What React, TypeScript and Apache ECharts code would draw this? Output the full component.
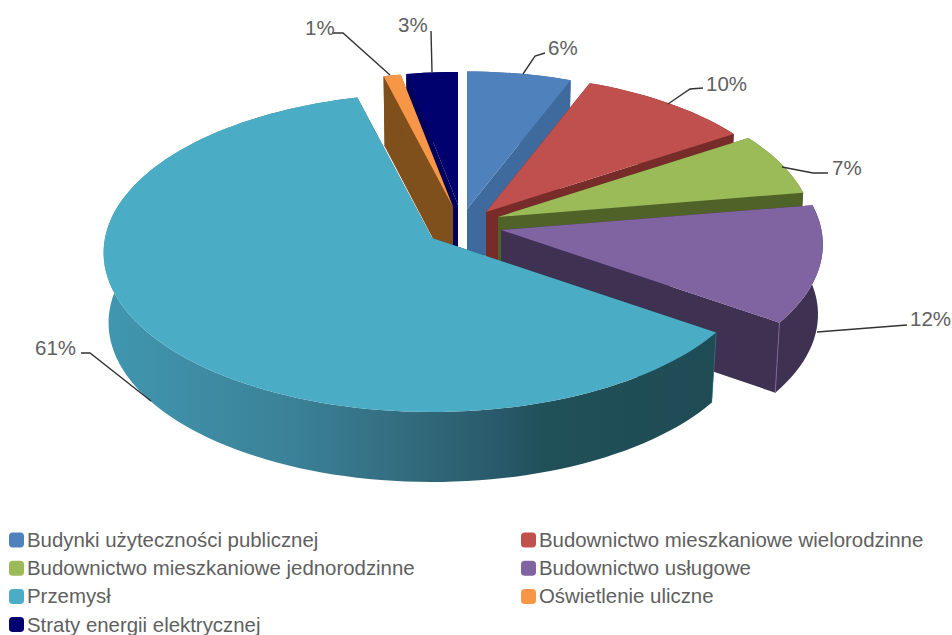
import React, { useEffect, useRef } from "react";
import * as echarts from "echarts";

const categories = [
  "Budynki użyteczności publicznej",
  "Budownictwo mieszkaniowe wielorodzinne",
  "Budownictwo mieszkaniowe jednorodzinne",
  "Budownictwo usługowe",
  "Przemysł",
  "Oświetlenie uliczne",
  "Straty energii elektrycznej",
];
const values = [5.9, 9.9, 6.6, 12.2, 61.4, 1.0, 3.0];
const topColors = ["#4f81bd", "#c0504d", "#9bbb59", "#8064a2", "#4bacc6", "#f79646", "#00006e"];
const wallColors = ["#3e6a9e", "#772c2a", "#4f6228", "#3f3151", "#205058", "#7f4f1c", "#00005c"];

// Layout of the exploded, perspective-projected pie
const RX = 327;
const RY = 158;
const PERSPECTIVE = 0.092;
const DEPTH = 70;
const BOTTOM_SCALE = 0.985;
const apexX = [467, 486, 498, 501, 432, 453, 458];
const apexY = [209, 212, 217, 230, 238, 207, 205];
const scales = [0.95, 0.95, 0.96, 0.98, 1, 0.93, 0.92];
const labelPos = [
  [548, 47],
  [706, 83],
  [832, 167],
  [910, 318],
  [35, 347],
  [305, 27],
  [398, 24],
];
const leaders = [
  [[523, 74], [535, 56], [545, 53]],
  [[668, 104], [690, 89], [703, 88]],
  [[782, 167], [813, 173], [828, 173]],
  [[817, 332], [907, 325]],
  [[151, 401], [90, 353], [81, 353]],
  [[390, 75], [343, 33], [332, 33]],
  [[432, 72], [431, 31]],
];
const drawOrder = [6, 0, 5, 1, 2, 3, 4];
const edgeHighlighted = [3, 4];
const leftLegend = [categories[0], categories[2], categories[4], categories[6]];
const rightLegend = [categories[1], categories[3], categories[5]];

const total = values.reduce((a, b) => a + b, 0);
const startAngles = values.map((_, i) =>
  (values.slice(0, i).reduce((a, b) => a + b, 0) / total) * Math.PI * 2,
);

function project(i: number, theta: number): [number, number] {
  const d = 1 + PERSPECTIVE * Math.cos(theta);
  return [
    apexX[i] + (scales[i] * RX * Math.sin(theta)) / d,
    apexY[i] - (scales[i] * RY * Math.cos(theta)) / d,
  ];
}
function drop(i: number, p: number[]): [number, number] {
  return [apexX[i] + (p[0] - apexX[i]) * BOTTOM_SCALE, p[1] + DEPTH];
}

function wallFill(i: number): any {
  if (i !== 4) return wallColors[i];
  return new echarts.graphic.LinearGradient(0, 0, 1, 0, [
    { offset: 0, color: "#4097b0" },
    { offset: 0.3, color: "#3b8298" },
    { offset: 0.5, color: "#326b7d" },
    { offset: 0.65, color: "#28596a" },
    { offset: 0.72, color: "#205058" },
    { offset: 1, color: "#1f4b55" },
  ]);
}

function renderSlice(i: number) {
  const a0 = startAngles[i];
  const a1 = a0 + (values[i] / total) * Math.PI * 2;
  const n = Math.max(4, Math.ceil(((a1 - a0) / (Math.PI * 2)) * 180));
  const arc: [number, number][] = [];
  for (let k = 0; k <= n; k++) arc.push(project(i, a0 + ((a1 - a0) * k) / n));
  const apex: [number, number] = [apexX[i], apexY[i]];
  const first = arc[0];
  const last = arc[arc.length - 1];
  const wall = wallColors[i];
  const children: any[] = [
    { type: "polygon", shape: { points: [apex, first, drop(i, first), drop(i, apex)] }, style: { fill: wall } },
    { type: "polygon", shape: { points: [apex, last, drop(i, last), drop(i, apex)] }, style: { fill: wall } },
    {
      type: "polygon",
      shape: { points: [...arc, ...arc.map((p) => drop(i, p)).reverse()] },
      style: { fill: wallFill(i) },
    },
  ];
  if (edgeHighlighted.includes(i)) {
    children.push({
      type: "polyline",
      shape: { points: [i === 3 ? last : first, drop(i, i === 3 ? last : first)] },
      style: { stroke: topColors[i], lineWidth: 1, fill: "none", opacity: i === 3 ? 0.9 : 0.35 },
    });
  }
  children.push(
    { type: "polygon", shape: { points: [apex, ...arc] }, style: { fill: topColors[i] } },
    {
      type: "polyline",
      shape: { points: leaders[i] },
      style: { stroke: "#333333", lineWidth: 1.4, fill: "none" },
    },
    {
      type: "text",
      style: {
        text: `${Math.round(values[i])}%`,
        x: labelPos[i][0],
        y: labelPos[i][1],
        fill: "#606060",
        fontSize: 20.5,
        fontFamily: "Liberation Sans",
        align: "left",
        verticalAlign: "middle",
      },
    },
  );
  return { type: "group", children };
}

export default function App() {
  const ref = useRef<HTMLDivElement>(null);
  useEffect(() => {
    document.body.style.margin = "0";
    const chart = echarts.init(ref.current!, undefined, { renderer: "svg" });
    const legendBase = {
      orient: "vertical",
      top: 530,
      height: 200,
      padding: 0,
      itemWidth: 15,
      itemHeight: 15,
      itemGap: 8.2,
      icon: "roundRect",
      selectedMode: false,
      textStyle: {
        color: "#606060",
        fontSize: 20.4,
        lineHeight: 20,
        fontFamily: "Liberation Sans",
        padding: [0, 0, 0, -2],
      },
    };
    chart.setOption({
      animation: false,
      backgroundColor: "#ffffff",
      legend: [
        { ...legendBase, left: 9, data: leftLegend },
        { ...legendBase, left: 521, data: rightLegend },
      ],
      series: drawOrder.map((i) => ({
        type: "custom",
        name: categories[i],
        coordinateSystem: "none",
        silent: true,
        itemStyle: { color: topColors[i] },
        data: [[values[i]]],
        renderItem: () => renderSlice(i),
      })),
    });
    return () => chart.dispose();
  }, []);
  return <div ref={ref} style={{ width: 952, height: 635 }} />;
}
